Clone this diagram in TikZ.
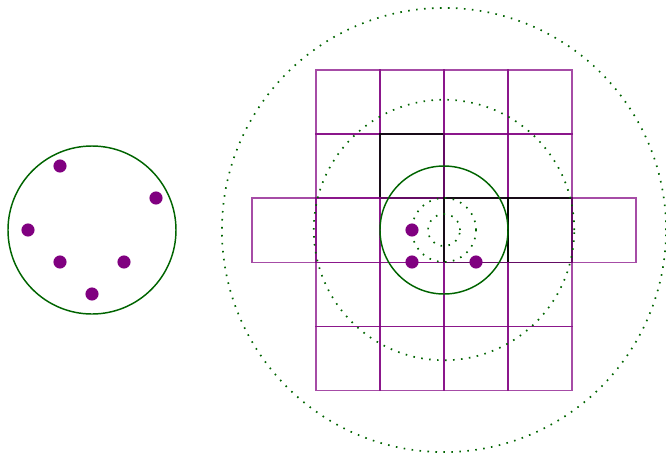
\documentclass[tikz,border=0pt]{standalone}
\usetikzlibrary{positioning}
\definecolor{gridpurple}{RGB}{128,0,128}
\definecolor{ringgreen}{RGB}{0,100,0}

\begin{document}
\begin{tikzpicture}[
    x=1cm, y=1cm,
    cell/.style={draw=gridpurple, draw opacity=0.7, line width=0.9pt},
    darkcell/.style={draw=black, draw opacity=0.85, line width=0.9pt},
    ring/.style={draw=ringgreen, line width=1.3pt},
    dotring/.style={draw=ringgreen, line width=1.5pt, dash pattern=on 1.4pt off 5.7pt},
    pt/.style={circle, fill=gridpurple, inner sep=0pt, minimum size=0.41cm}
]
\useasboundingbox (-13.875,-7) rectangle (6.9375,7.1875);

% left disc
\draw[ring] (-11,0) circle (2.625);
\foreach \p/\q [count=\i] in {-1/2, 2/1, -2/0, -1/-1, 1/-1, 0/-2}
  \node[pt] (a\i) at (-11+\p,\q) {};

% grid, row by row
\foreach \c in {-4,-2,0,2} \draw[cell] (\c,5) rectangle ++(2,-2);
\draw[cell] (-4,3) rectangle ++(2,-2);
\draw[darkcell] (-2,3) rectangle ++(2,-2);
\foreach \c in {0,2} \draw[cell] (\c,3) rectangle ++(2,-2);
\foreach \c in {-6,-4,-2} \draw[cell] (\c,1) rectangle ++(2,-2);
\foreach \c in {0,2} \draw[darkcell] (\c,1) rectangle ++(2,-2);
\draw[cell] (4,1) rectangle ++(2,-2);
\foreach \r in {-1,-3}
  \foreach \c in {-4,-2,0,2} \draw[cell] (\c,\r) rectangle ++(2,-2);

% rings round the centre
\draw[dotring] (0,0) circle (6.94);
\draw[dotring] (0,0) circle (4.07);
\draw[dotring] (0,0) circle (1);
\draw[dotring] (0,0) circle (0.5);
\draw[ring] (0,0) circle (2);

\node[pt] (b1) at (-1,0) {};
\node[pt] (b2) at (-1,-1) {};
\node[pt] (b3) at (1,-1) {};

\end{tikzpicture}
\end{document}
